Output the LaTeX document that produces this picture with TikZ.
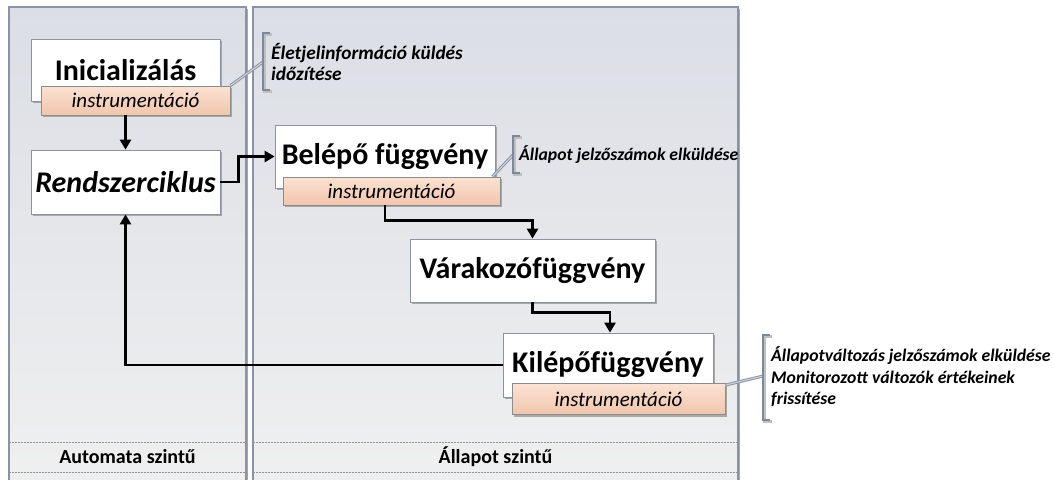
\documentclass[tikz,border=0pt]{standalone}
\usepackage{fontspec}
\setmainfont{Carlito}
\usetikzlibrary{arrows.meta,shadows}

\definecolor{panelTop}{HTML}{DBDEE5}
\definecolor{panelBot}{HTML}{F0F0F0}
\definecolor{panelEdge}{HTML}{8A93A6}
\definecolor{instTop}{HTML}{FBE2D3}
\definecolor{instBot}{HTML}{F1C5AC}
\definecolor{calloutc}{HTML}{7D889C}

\tikzset{
  panel/.style={draw=panelEdge, line width=1.2pt, top color=panelTop, bottom color=panelBot},
  boxshadow/.style={drop shadow={shadow xshift=2pt, shadow yshift=-2pt, fill=black!40, opacity=0.8}},
  func/.style={draw=panelEdge, line width=0.8pt, fill=white, inner sep=0pt,
    font=\fontsize{30}{32}\selectfont\bfseries, boxshadow},
  inst/.style={draw=black!45, line width=0.8pt, top color=instTop, bottom color=instBot,
    inner sep=0pt, font=\fontsize{21}{23}\selectfont\itshape, boxshadow},
  flow/.style={line width=2.6pt, -{Triangle[length=10pt,width=11pt]}},
  note/.style={anchor=west, align=left, inner sep=0pt,
    font=\fontsize{17.7}{21.5}\selectfont\bfseries\itshape},
  bracket/.style={draw=calloutc, line width=2.4pt},
  brshadow/.style={draw=black!25, line width=2.4pt},
  level/.style={font=\fontsize{20}{22}\selectfont\bfseries},
}

\newcommand{\calloutlink}[2]{%
  \draw[line width=3pt, calloutc!90] (#1) -- (#2);
  \draw[line width=1pt, calloutc!35!white] (#1) -- (#2);}
\newcommand{\notebracket}[3]{% x, top y, bottom y
  \draw[brshadow] (#1+8.5,#2+1.5) -- (#1+1.5,#2+1.5) -- (#1+1.5,#3+1.5) -- (#1+8.5,#3+1.5);
  \draw[bracket] (#1+7,#2) -- (#1,#2) -- (#1,#3) -- (#1+7,#3);}

\begin{document}
\begin{tikzpicture}[x=1pt, y=-1pt]
\clip (0,0) rectangle (1054,479);
\fill[white] (0,0) rectangle (1054,479);

% swim lanes
\fill[black!35] (11,9) rectangle (248,495);
\fill[black!35] (255,9) rectangle (740,495);
\path[panel] (9,7) rectangle (246,493);
\path[panel] (253,7) rectangle (738,493);
\foreach \yy in {442,472}{
  \draw[panelEdge, line width=0.6pt, dash pattern=on 2pt off 1pt] (9,\yy) -- (246,\yy);
  \draw[panelEdge, line width=0.6pt, dash pattern=on 2pt off 1pt] (253,\yy) -- (738,\yy);
}
\node[level] (lvlA) at (127.5,457) {Automata szintű};
\node[level] (lvlS) at (495.5,457) {Állapot szintű};

% function blocks
\node[func, minimum width=189pt, minimum height=62pt] (init) at (125.5,70) {Inicializálás};
\node[inst, minimum width=189pt, minimum height=29pt] (instA) at (135.5,100.5) {instrumentáció};

\node[func, minimum width=189pt, minimum height=64pt, font=\fontsize{30}{32}\selectfont\bfseries\itshape]
  (rend) at (125.5,182) {Rendszerciklus};

\node[func, minimum width=220pt, minimum height=63pt] (belep) at (385,156.5) {Belépő függvény};
\node[inst, minimum width=217pt, minimum height=28pt] (instB) at (391.5,191) {instrumentáció};

\node[func, minimum width=245pt, minimum height=63pt] (varak) at (532.5,270.5) {Várakozófüggvény};

\node[func, minimum width=210pt, minimum height=64pt] (kilep) at (608,365) {Kilépőfüggvény};
\node[inst, minimum width=213pt, minimum height=31pt] (instC) at (618.5,399) {instrumentáció};

% control flow
\draw[flow] (rend.north |- instA.south) -- (rend.north);
\draw[flow] (rend.east) -- ++(18,0) |- (belep.west);
\draw[flow] (belep.center |- instB.south) -- ++(0,15) -| (varak.north);
\draw[flow] (varak.south) -- ++(0,10) -| ([xshift=2pt]kilep.north);
\draw[flow] (kilep.west) -| (rend.south);

% annotations
\coordinate (brA) at (263,62);
\coordinate (brB) at (513,155);
\coordinate (brC) at (763,376);

\calloutlink{instA.north east}{brA}
\notebracket{263}{33}{90}
\node[note, font=\fontsize{19.3}{20.5}\selectfont\bfseries\itshape] (noteA) at (271,62) {Életjelinformáció küldés\\időzítése};

\calloutlink{[xshift=-8pt]instB.north east}{brB}
\notebracket{513}{136}{173}
\node[note] (noteB) at (519,155) {Állapot jelzőszámok elküldése};

\calloutlink{[yshift=-2pt]instC.north east}{brC}
\notebracket{763}{335}{420}
\node[note] (noteC) at (771,377) {Állapotváltozás jelzőszámok elküldése\\Monitorozott változók értékeinek\\frissítése};

\end{tikzpicture}
\end{document}
